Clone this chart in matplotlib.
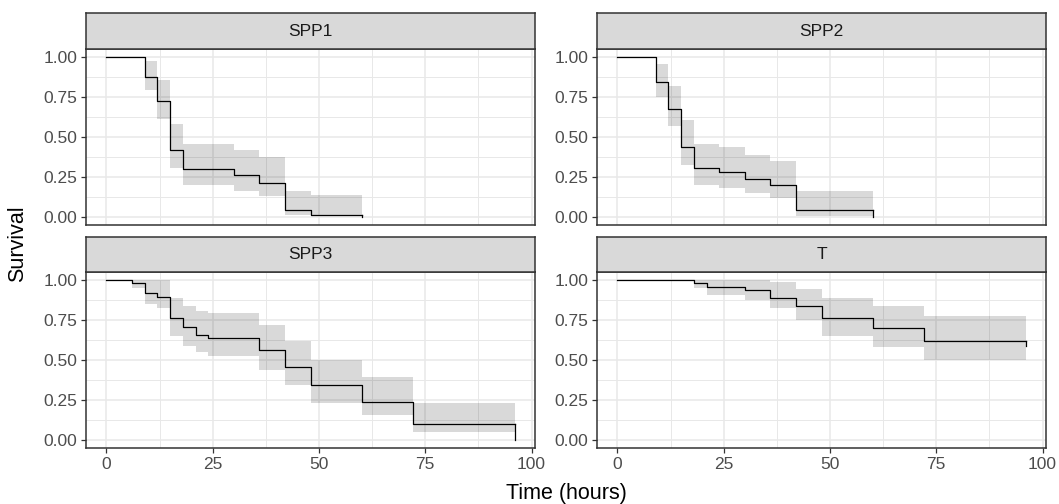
import numpy as np
import matplotlib
matplotlib.use('Agg')
import matplotlib.pyplot as plt

plt.rcParams['font.family'] = ['Liberation Sans', 'DejaVu Sans']

# Kaplan-Meier estimates
groups = ['SPP1', 'SPP2', 'SPP3', 'T']
t_end = [60, 60, 96, 96]

spp1_time  = [0, 9, 12, 15, 18, 30, 36, 42, 48]
spp1_surv  = [1.0, 0.875, 0.723, 0.417, 0.30, 0.2625, 0.2125, 0.042, 0.015]
spp1_lower = [1.0, 0.796, 0.615, 0.308, 0.202, 0.165, 0.133, 0.015, 0.008]
spp1_upper = [1.0, 0.977, 0.858, 0.583, 0.458, 0.417, 0.375, 0.160, 0.14]

spp2_time  = [0, 9, 12, 15, 18, 24, 30, 36, 42]
spp2_surv  = [1.0, 0.842, 0.675, 0.4375, 0.304, 0.283, 0.2375, 0.198, 0.042]
spp2_lower = [1.0, 0.75, 0.567, 0.327, 0.202, 0.181, 0.15, 0.117, 0.008]
spp2_upper = [1.0, 0.958, 0.821, 0.604, 0.458, 0.4375, 0.39, 0.352, 0.16]

spp3_time  = [0, 6, 9, 12, 15, 18, 21, 24, 36, 42, 48, 60, 72]
spp3_surv  = [1.0, 0.98, 0.92, 0.894, 0.76, 0.704, 0.658, 0.638, 0.56, 0.456, 0.342, 0.238, 0.101]
spp3_lower = [1.0, 0.948, 0.853, 0.822, 0.652, 0.586, 0.549, 0.524, 0.439, 0.342, 0.232, 0.155, 0.052]
spp3_upper = [1.0, 1.0, 1.0, 1.0, 0.89, 0.839, 0.807, 0.791, 0.716, 0.621, 0.503, 0.393, 0.232]

t_time  = [0, 18, 21, 30, 36, 42, 48, 60, 72]
t_surv  = [1.0, 0.98, 0.959, 0.938, 0.89, 0.839, 0.76, 0.702, 0.617]
t_lower = [1.0, 0.948, 0.907, 0.876, 0.822, 0.75, 0.652, 0.584, 0.50]
t_upper = [1.0, 1.0, 1.0, 1.0, 0.99, 0.946, 0.886, 0.838, 0.774]

# value at the very end of each curve (last drop / censor tick)
end_surv = [0.0, 0.0, 0.0, 0.59]

series = [
    (spp1_time, spp1_surv, spp1_lower, spp1_upper),
    (spp2_time, spp2_surv, spp2_lower, spp2_upper),
    (spp3_time, spp3_surv, spp3_lower, spp3_upper),
    (t_time, t_surv, t_lower, t_upper),
]

xticks = [0, 25, 50, 75, 100]
yticks = [0.0, 0.25, 0.5, 0.75, 1.0]

W, H = 1059, 504
fig = plt.figure(figsize=(W/100, H/100), dpi=100)

col_left = [86, 597]
col_w = 449
row_top = [49, 272]
row_bot = [225, 448]
strip_top = [13, 237]

border = '#333333'
grid_c = '#E8E8E8'

for i, name in enumerate(groups):
    r, c = divmod(i, 2)
    x0 = col_left[c] / W
    y0 = 1 - row_bot[r] / H
    h = (row_bot[r] - row_top[r]) / H
    ax = fig.add_axes([x0, y0, col_w / W, h])

    tm, sv, lo, up = series[i]
    tt = list(tm) + [t_end[i]]
    ss = list(sv) + [sv[-1]]
    ax.fill_between(tt, list(lo) + [lo[-1]], list(up) + [up[-1]], step='post',
                    color='black', alpha=0.15, linewidth=0, zorder=2)
    ax.step(tt, ss, where='post', color='black', linewidth=0.9, zorder=3)
    ax.plot([t_end[i], t_end[i]], [sv[-1], end_surv[i]], color='black',
            linewidth=0.9, zorder=3)

    ax.set_xlim(-4.8, 100.8)
    ax.set_ylim(-0.05, 1.05)
    ax.set_xticks(xticks)
    ax.set_yticks(yticks)
    ax.set_xticks([12.5, 37.5, 62.5, 87.5], minor=True)
    ax.set_yticks([0.125, 0.375, 0.625, 0.875], minor=True)
    ax.grid(True, which='major', color=grid_c, linewidth=1.1, zorder=0)
    ax.grid(True, which='minor', color=grid_c, linewidth=0.7, zorder=0)
    ax.set_axisbelow(True)
    ax.set_yticklabels(['0.00', '0.25', '0.50', '0.75', '1.00'])
    ax.tick_params(axis='both', which='major', length=3.8, width=0.9, color=border,
                   labelsize=12.5, labelcolor='#4D4D4D', pad=2.5)
    ax.tick_params(axis='both', which='minor', length=0)
    if r == 0:
        ax.tick_params(axis='x', which='major', length=0, labelbottom=False)
    for sp in ax.spines.values():
        sp.set_color(border)
        sp.set_linewidth(1.1)

    # facet strip
    sax = fig.add_axes([x0, 1 - row_top[r] / H, col_w / W, (row_top[r] - strip_top[r]) / H])
    sax.set_facecolor('#D9D9D9')
    sax.set_xticks([])
    sax.set_yticks([])
    for sp in sax.spines.values():
        sp.set_color(border)
        sp.set_linewidth(1.1)
    sax.text(0.5, 0.5, name, ha='center', va='center', fontsize=12.5,
             color='#1A1A1A', transform=sax.transAxes)

fig.text(566 / W, 1 - 493 / H, 'Time (hours)', ha='center', va='center', fontsize=15.5)
fig.text(18 / W, 1 - 244 / H, 'Survival', ha='center', va='center', rotation=90, fontsize=15.5)

fig.savefig('out.png', dpi=100)
